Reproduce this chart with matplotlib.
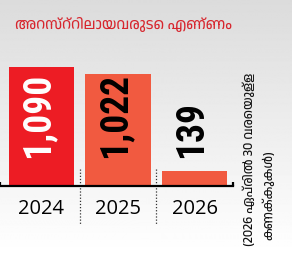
import numpy as np
import matplotlib
matplotlib.use("Agg")
import matplotlib.pyplot as plt
from matplotlib import font_manager

# pick installed fonts
names = {f.name for f in font_manager.fontManager.ttflist}
MAL_FONT = sorted(n for n in names if "Malayalam" in n) + ["DejaVu Sans"]
cond_pref = ["Roboto Condensed", "Open Sans Condensed", "Noto Sans Condensed",
             "DejaVu Sans Condensed", "Liberation Sans Narrow"]
cond = [n for n in cond_pref if n in names]
cond += sorted(n for n in names if ("Condensed" in n or "Narrow" in n) and n not in cond)
NUM_FONT = cond[:1] + ["DejaVu Sans"]

# data
years = ["2024", "2025", "2026"]
arrests = [1090, 1022, 139]
labels = ["1,090", "1,022", "139"]
bar_colors = ["#ed1c24", "#f15a40", "#f15a40"]
label_colors = ["white", "black", "black"]
title = "അറസ്റ്റിലായവരുടെ എണ്ണം"
note_1 = "(2026 ഏപ്രിൽ 30 വരെയുള്ള"
note_2 = "കണക്കുകൾ)"

W, H = 292, 255
fig = plt.figure(figsize=(W / 100, H / 100), dpi=100)

# grey-to-white background
bg = fig.add_axes([0, 0, 1, 1], zorder=-5)
grad = np.linspace(0.86, 1.0, 256).reshape(-1, 1)
bg.imshow(grad, aspect="auto", cmap="gray", vmin=0, vmax=1, extent=[0, 1, 0, 1])
bg.axis("off")

# axes placed in pixels: baseline at y=187, x 0..233
base_y = 187
ax = fig.add_axes([0, (H - base_y) / H, 233 / W, 127 / H])
ax.patch.set_alpha(0)
x = np.arange(len(years))
ax.bar(x, arrests, width=0.85, color=bar_colors)
ax.set_xlim(-0.54, 2.50)
ax.set_ylim(0, 1163)

for s in ["top", "right", "left"]:
    ax.spines[s].set_visible(False)
ax.spines["bottom"].set_linewidth(1.6)
ax.set_yticks([])
ax.set_xticks(x)
ax.set_xticklabels(years, fontsize=14.5, family="Open Sans")
ax.tick_params(axis="x", length=0, pad=9)

# small end ticks on baseline
trans = ax.get_xaxis_transform()
for xe in ax.get_xlim():
    ax.plot([xe, xe], [0, 0.035], color="black", lw=1.6, transform=trans,
            clip_on=False, solid_capstyle="butt")

# dotted separators
for xs in [0.5, 1.5]:
    ax.plot([xs, xs], [0.13, -0.30], color="#333333", lw=0.9, ls=(0, (1, 1.5)),
            transform=trans, clip_on=False)

# value labels, rotated
for xi, lab, c in zip(x, labels, label_colors):
    ax.text(xi - 0.04, 265, lab, rotation=90, ha="center", va="bottom",
            fontsize=27, fontweight="heavy", color=c, family=NUM_FONT)

fig.text(124 / W, 1 - 25 / H, title, ha="center", va="center", fontsize=10.5,
         fontweight="bold", color="#d7262e", family=MAL_FONT)

fig.text(249 / W, 1 - 73 / H, note_1, rotation=90, ha="center", va="top",
         fontsize=9.2, color="#111111", family=MAL_FONT)
fig.text(268 / W, 1 - 240 / H, note_2, rotation=90, ha="center", va="bottom",
         fontsize=9.2, color="#111111", family=MAL_FONT)

fig.savefig("out.png", dpi=100)
